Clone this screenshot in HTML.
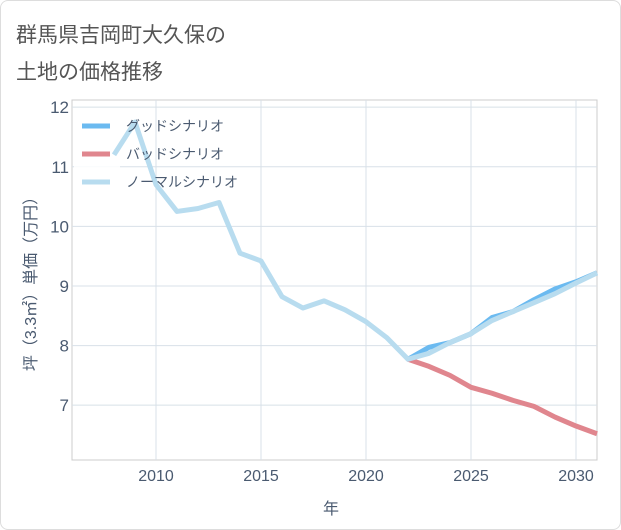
<!DOCTYPE html>
<html><head><meta charset="utf-8"><style>
body{margin:0;background:#fff;font-family:"Liberation Sans","Noto Sans CJK JP",sans-serif;}
.card{position:absolute;left:0;top:0;width:619px;height:528px;border:1px solid #ddd;border-radius:8px;background:#fff;}
</style></head><body>
<div class="card"></div>
<svg width="621" height="530" style="position:absolute;left:0;top:0">
<text x="16" y="42" font-size="21" fill="#555">群馬県吉岡町大久保の</text>
<text x="16" y="79" font-size="21" fill="#555">土地の価格推移</text>
<g id="grid"></g>
<g id="legendbg"></g>
<g id="series"></g>
<g id="legend"></g>
<text x="331" y="514" font-size="16" fill="#4a5a70" text-anchor="middle">年</text>
<text transform="translate(36,280) rotate(-90)" font-size="16" fill="#4a5a70" text-anchor="middle">坪（3.3㎡）単価（万円）</text>
</svg>
<script>
const years=[2008,2009,2010,2011,2012,2013,2014,2015,2016,2017,2018,2019,2020,2021,2022,2023,2024,2025,2026,2027,2028,2029,2030,2031];
const normal=[11.2,11.75,10.7,10.25,10.3,10.4,9.55,9.42,8.82,8.63,8.75,8.6,8.4,8.13,7.77,7.87,8.05,8.2,8.42,8.57,8.72,8.87,9.05,9.22];
const fyears=[2022,2023,2024,2025,2026,2027,2028,2029,2030,2031];
const good=[7.77,7.97,8.05,8.2,8.47,8.57,8.77,8.95,9.07,9.22];
const bad=[7.77,7.65,7.5,7.3,7.2,7.08,6.98,6.8,6.65,6.52];
const xTicks=[2010,2015,2020,2025,2030];
const yTicks=[7,8,9,10,11,12];
const L=72,R=597,T=100,B=460,x0=2006,x1=2031,y0=6.08,y1=12.12;
const X=v=>L+(v-x0)/(x1-x0)*(R-L), Y=v=>B-(v-y0)/(y1-y0)*(B-T);
const NS="http://www.w3.org/2000/svg";
function mk(p,t,a){const e=document.createElementNS(NS,t);for(const k in a)e.setAttribute(k,a[k]);p.appendChild(e);return e;}
const g=document.getElementById('grid');
mk(g,'rect',{x:L,y:T,width:R-L,height:B-T,fill:'none',stroke:'#ccc'});
xTicks.forEach(v=>{const l=mk(g,'line',{x1:X(v),x2:X(v),y1:T,y2:B,stroke:'#d8e0e8'});

const t=mk(g,'text',{x:X(v),y:B+21,'font-size':16,fill:'#4a5a70','text-anchor':'middle'});t.textContent=v;
});
yTicks.forEach(v=>{const l=mk(g,'line',{x1:L,x2:R,y1:Y(v),y2:Y(v),stroke:'#d8e0e8'});

const t=mk(g,'text',{x:L-3,y:Y(v)+6,'font-size':17,fill:'#4a5a70','text-anchor':'end'});t.textContent=v;
});
const bg=mk(document.getElementById('legendbg'),'rect',{x:74,y:108,width:46,height:92,fill:'rgba(255,255,255,0.85)'});

const s=document.getElementById('series');
function line(xs,ys,c,name){const p=mk(s,'polyline',{points:xs.map((x,i)=>X(x)+','+Y(ys[i])).join(' '),fill:'none',stroke:c,'stroke-width':5,'stroke-linejoin':'round'});
}
line(fyears,good,'#6bbaf0','good-scenario-line');
line(fyears,bad,'#e0868e','bad-scenario-line');
line(years,normal,'#b8dcef','normal-scenario-line');
const lg=document.getElementById('legend');
[['グッドシナリオ','#6bbaf0'],['バッドシナリオ','#e0868e'],['ノーマルシナリオ','#b8dcef']].forEach((d,i)=>{
const y=126+i*28;
const l=mk(lg,'line',{x1:82,x2:110,y1:y,y2:y,stroke:d[1],'stroke-width':5});

const t=mk(lg,'text',{x:126,y:y+5,'font-size':14,fill:'#4a5a70'});t.textContent=d[0];
});
</script>
</body></html>
